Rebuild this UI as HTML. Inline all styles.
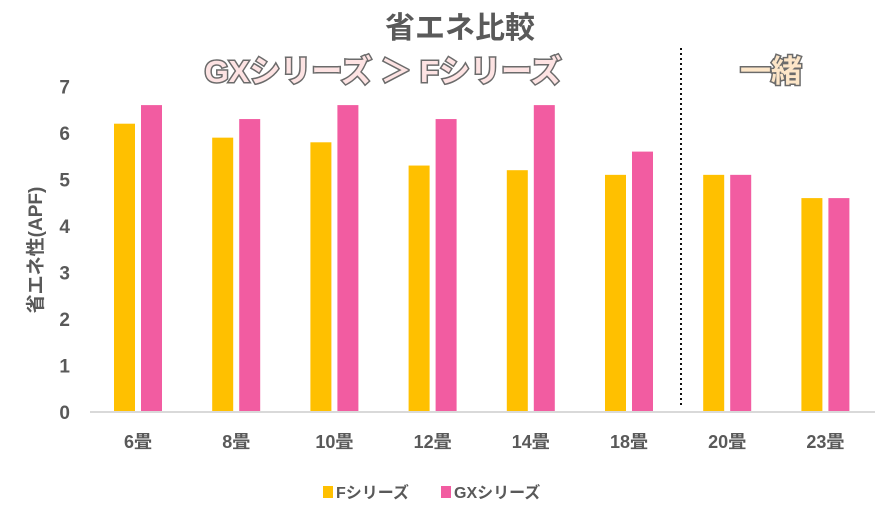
<!DOCTYPE html>
<html><head><meta charset="utf-8"><style>
body{margin:0;background:#fff;width:879px;height:505px;overflow:hidden;font-family:"Liberation Sans","Noto Sans CJK JP",sans-serif}
</style></head><body>
<svg width="879" height="505" style="font-family:'Liberation Sans','Noto Sans CJK JP',sans-serif;font-weight:bold">
<text x="460" y="38" text-anchor="middle" font-size="30" fill="#595959">省エネ比較</text>
<text x="383" y="82" text-anchor="middle" font-size="31" fill="#fde3e3" stroke="#6b6b6b" stroke-width="3" paint-order="stroke">GXシリーズ ＞ Fシリーズ</text>
<text x="771" y="82" text-anchor="middle" font-size="31" fill="#fde6c8" stroke="#6b6b6b" stroke-width="3" paint-order="stroke">一緒</text>
<text transform="translate(42,250) rotate(-90)" text-anchor="middle" font-size="19" fill="#595959">省エネ性(APF)</text>
<g id="yticks"></g><g id="bars"></g><g id="xlabels"></g>
<line x1="90" y1="412" x2="875" y2="412" stroke="#d9d9d9" stroke-width="2"/>
<line x1="681" y1="48" x2="681" y2="408" stroke="#111" stroke-width="2" stroke-dasharray="2,3"/>
<g>
<rect x="323" y="486" width="10" height="12" fill="#ffc000"/>
<text x="336" y="498" font-size="16" fill="#595959">Fシリーズ</text>
<rect x="441" y="486" width="10" height="12" fill="#f25ca1"/>
<text x="454" y="498" font-size="16" fill="#595959">GXシリーズ</text>
</g>
</svg>
<script>
const categories=["6畳","8畳","10畳","12畳","14畳","18畳","20畳","23畳"];
const fSeries=[6.2,5.9,5.8,5.3,5.2,5.1,5.1,4.6];
const gxSeries=[6.6,6.3,6.6,6.3,6.6,5.6,5.1,4.6];
const yTicks=[0,1,2,3,4,5,6,7];
const NS="http://www.w3.org/2000/svg";
function y(v){return 412-v*46.5;}
function xc(i){return 138+i*98.2;}
const yt=document.getElementById('yticks'),bg=document.getElementById('bars'),xl=document.getElementById('xlabels');
yTicks.forEach(t=>{const e=document.createElementNS(NS,'text');


e.setAttribute('x',70);e.setAttribute('y',y(t)+7);e.setAttribute('text-anchor','end');e.setAttribute('font-size','19');e.setAttribute('fill','#595959');e.textContent=t;yt.appendChild(e);});
categories.forEach((c,i)=>{
 [[fSeries,'#ffc000',-24,'bar-f'],[gxSeries,'#f25ca1',3,'bar-gx']].forEach(([s,col,off,nm])=>{
  const r=document.createElementNS(NS,'rect');
  
  
  r.setAttribute('x',xc(i)+off);r.setAttribute('width',21);r.setAttribute('y',y(s[i]));r.setAttribute('height',412-y(s[i]));r.setAttribute('fill',col);bg.appendChild(r);});
 const t=document.createElementNS(NS,'text');
 
 
 t.setAttribute('x',xc(i));t.setAttribute('y',448);t.setAttribute('text-anchor','middle');t.setAttribute('font-size','18');t.setAttribute('fill','#595959');t.textContent=c;xl.appendChild(t);
});
</script>
</body></html>
